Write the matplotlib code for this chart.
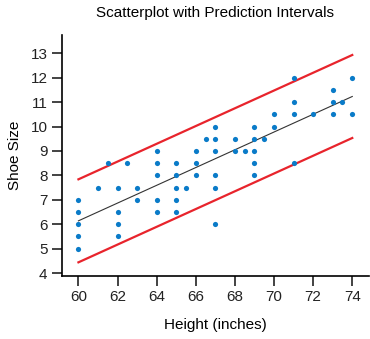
import numpy as np
import matplotlib
matplotlib.use("Agg")
import matplotlib.pyplot as plt

plt.rcParams['font.family'] = ['Liberation Sans', 'DejaVu Sans']

# heights (inches) and shoe sizes
height = [60, 60, 60, 60, 60,
          61, 61.5,
          62, 62, 62, 62,
          62.5,
          63, 63,
          64, 64, 64, 64, 64,
          65, 65, 65, 65, 65,
          65.5,
          66, 66, 66,
          66.5,
          67, 67, 67, 67, 67, 67,
          68, 68,
          68.5,
          69, 69, 69, 69, 69,
          69.5,
          70, 70,
          71, 71, 71, 71,
          72,
          73, 73, 73,
          73.5,
          74, 74]
shoe = [7, 6.5, 6, 5.5, 5,
        7.5, 8.5,
        7.5, 6.5, 6, 5.5,
        8.5,
        7.5, 7,
        9, 8.5, 8, 7, 6.5,
        8.5, 8, 7.5, 7, 6.5,
        7.5,
        9, 8.5, 8,
        9.5,
        10, 9.5, 9, 8, 7.5, 6,
        9.5, 9,
        9,
        10, 9.5, 9, 8.5, 8,
        9.5,
        10.5, 10,
        12, 11, 10.5, 8.5,
        10.5,
        11.5, 11, 10.5,
        11,
        12, 10.5]

pi_half_width = 1.7
line_x = np.array([60, 74])

# least squares line, prediction band drawn as parallel lines
slope, intercept = np.polyfit(height, shoe, 1)
fit = intercept + slope * line_x

fig = plt.figure(figsize=(3.70, 3.39), dpi=100)
ax = fig.add_axes([0.1676, 0.1867, 0.8294, 0.7101])

ax.plot(line_x, fit + pi_half_width, color="#e8242c", lw=1.6, zorder=2)
ax.plot(line_x, fit - pi_half_width, color="#e8242c", lw=1.6, zorder=2)
ax.plot(line_x, fit, color="#333333", lw=0.8, zorder=2)
ax.scatter(height, shoe, s=14, color="#0a7bc8", zorder=3, linewidths=0)

ax.set_xlim(59.16, 74.85)
ax.set_ylim(3.89, 13.75)
ax.set_xticks(range(60, 75, 2))
ax.set_yticks(range(4, 14))

for side in ["top", "right"]:
    ax.spines[side].set_visible(False)
for side in ["left", "bottom"]:
    ax.spines[side].set_linewidth(1.2)
ax.tick_params(direction="out", length=7, width=1.2, labelsize=11, colors="#222222")

ax.set_title("Scatterplot with Prediction Intervals", fontsize=11, pad=0, y=1.075)
ax.set_xlabel("Height (inches)", fontsize=11, labelpad=10)
ax.set_ylabel("Shoe Size", fontsize=11, labelpad=6)

fig.savefig("out.png", dpi=100)
